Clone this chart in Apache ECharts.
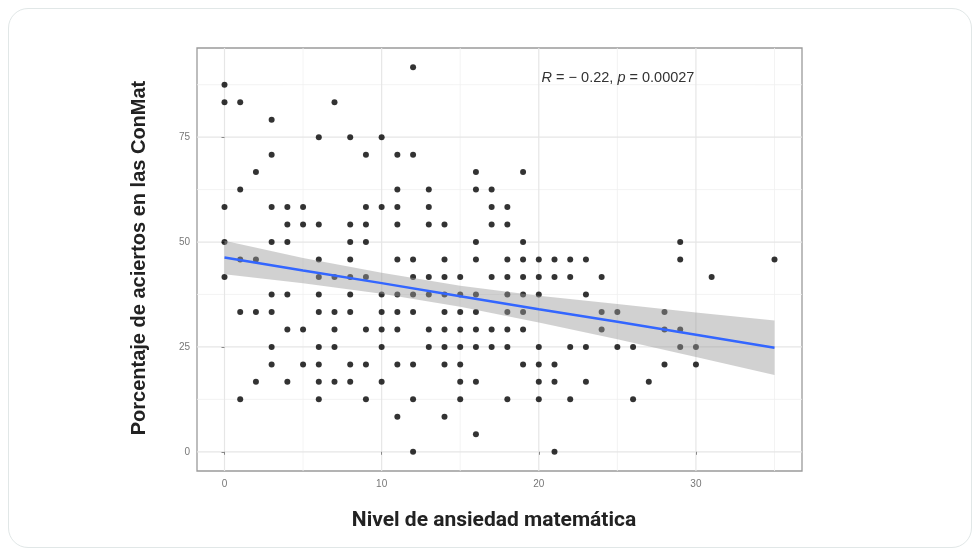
<!DOCTYPE html>
<html>
<head>
<meta charset="utf-8">
<script src="https://cdn.jsdelivr.net/npm/echarts@6/dist/echarts.min.js"></script>
<style>
  html, body { margin: 0; padding: 0; background: #fff; }
  .card {
    position: absolute; left: 8px; top: 8px; width: 964px; height: 540px;
    border: 1.5px solid #e1e7e7; border-radius: 20px; box-sizing: border-box;
  }
  #chart { position: absolute; left: 0; top: 0; width: 978px; height: 553px; }
</style>
</head>
<body>
<div class="card"></div>
<div id="chart"></div>
<script>
// ansiedad (x) y porcentaje de aciertos (y), leidos fila por fila
const pts = [
  [91.67, [12]],
  [87.5, [0]],
  [83.33, [0, 1, 7]],
  [79.17, [3]],
  [75, [6, 8, 10]],
  [70.83, [3, 9, 11, 12]],
  [66.67, [2, 16, 19]],
  [62.5, [1, 11, 13, 16, 17]],
  [58.33, [0, 3, 4, 5, 9, 10, 11, 13, 17, 18]],
  [54.17, [4, 5, 6, 8, 9, 11, 13, 14, 17, 18]],
  [50, [0, 3, 4, 8, 9, 16, 19, 29]],
  [45.83, [1, 2, 6, 8, 11, 12, 14, 16, 18, 19, 20, 21, 22, 23, 29, 35]],
  [41.67, [0, 6, 7, 8, 9, 12, 13, 14, 15, 17, 18, 19, 20, 21, 22, 24, 31]],
  [37.5, [3, 4, 6, 8, 10, 11, 12, 13, 14, 15, 16, 18, 19, 20, 23]],
  [33.33, [1, 2, 3, 6, 7, 8, 10, 11, 12, 14, 15, 16, 18, 19, 24, 25, 28]],
  [29.17, [4, 5, 7, 9, 10, 11, 13, 14, 15, 16, 17, 18, 19, 24, 28, 29]],
  [25, [3, 6, 7, 10, 13, 14, 15, 16, 17, 18, 20, 22, 23, 25, 26, 29, 30]],
  [20.83, [3, 5, 6, 8, 9, 11, 12, 14, 15, 19, 20, 21, 28, 30]],
  [16.67, [2, 4, 6, 7, 8, 10, 15, 16, 20, 21, 23, 27]],
  [12.5, [1, 6, 9, 12, 15, 18, 20, 22, 26]],
  [8.33, [11, 14]],
  [4.17, [16]],
  [0, [12, 21]]
];

// recta de regresion y banda de confianza
const fitX = [0, 5, 10, 15, 20, 25, 30, 35];
const fitY = [46.3, 43.2, 40.2, 37.1, 34.0, 31.0, 27.9, 24.8];
const bandUpper = [50.3, 46.2, 42.7, 39.6, 37.2, 35.2, 33.2, 31.3];
const bandLower = [42.3, 40.2, 37.7, 34.6, 30.8, 26.8, 22.6, 18.3];

const xTicks = [0, 10, 20, 30];
const xMinor = [5, 15, 25, 35];
const yTicks = [0, 25, 50, 75];
const yMinor = [12.5, 37.5, 62.5, 87.5];

const scatterData = [];
pts.forEach(([y, xs]) => xs.forEach((x) => scatterData.push([x, y])));

// lineas de cuadricula dibujadas debajo de los puntos
function gridSeries(values, vertical, color, width) {
  return {
    type: 'custom', z: 0, silent: true,
    data: values.map((v) => (vertical ? [v, 0] : [0, v])),
    renderItem: (params, api) => {
      const cs = params.coordSys;
      const p = api.coord([api.value(0), api.value(1)]);
      const shape = vertical
        ? { x1: p[0], y1: cs.y, x2: p[0], y2: cs.y + cs.height }
        : { x1: cs.x, y1: p[1], x2: cs.x + cs.width, y2: p[1] };
      return { type: 'line', shape: shape, style: { stroke: color, lineWidth: width } };
    },
  };
}

const chart = echarts.init(document.getElementById('chart'));
chart.setOption({
  animation: false,
  grid: {
    left: 197, top: 48, right: 176, bottom: 82,
    show: true, borderColor: '#9a9a9a', borderWidth: 1.3, backgroundColor: 'transparent',
  },
  xAxis: {
    type: 'value', min: -1.75, max: 36.75,
    axisLine: { show: false },
    splitLine: { show: false },
    axisTick: { show: true, customValues: xTicks, length: 3, lineStyle: { color: '#888' } },
    axisLabel: { customValues: xTicks, margin: 8, color: '#777', fontSize: 10, fontFamily: 'Liberation Sans' },
  },
  yAxis: {
    type: 'value', min: -4.58, max: 96.25,
    axisLine: { show: false },
    splitLine: { show: false },
    axisTick: { show: true, customValues: yTicks, length: 3, lineStyle: { color: '#888' } },
    axisLabel: { customValues: yTicks, margin: 7, color: '#777', fontSize: 10, fontFamily: 'Liberation Sans' },
  },
  graphic: [
    {
      type: 'text', x: 139, y: 258, rotation: Math.PI / 2,
      style: {
        text: 'Porcentaje de aciertos en las ConMat', textAlign: 'center', textVerticalAlign: 'middle',
        font: 'bold 20px "Liberation Sans"', fill: '#222',
      },
    },
    {
      type: 'text', x: 494, y: 521,
      style: {
        text: 'Nivel de ansiedad matemática', textAlign: 'center', textVerticalAlign: 'middle',
        font: 'bold 21px Roboto', fill: '#222',
      },
    },
    {
      type: 'text', x: 618, y: 78, z: 10,
      style: {
        text: '{i|R} = − 0.22, {i|p} = 0.00027', textAlign: 'center', textVerticalAlign: 'middle',
        font: '14.5px "Liberation Sans"', fill: '#333',
        rich: { i: { fontStyle: 'italic', fontSize: 14.5, fontFamily: 'Liberation Sans', fill: '#333' } },
      },
    },
  ],
  series: [
    gridSeries(xMinor, true, '#f0f0f0', 0.8),
    gridSeries(yMinor, false, '#f0f0f0', 0.8),
    gridSeries(xTicks, true, '#e6e6e6', 1.2),
    gridSeries(yTicks, false, '#e6e6e6', 1.2),
    {
      type: 'scatter', data: scatterData, symbolSize: 6, z: 2,
      itemStyle: { color: '#000' },
    },
    {
      type: 'custom', data: [[0, 0]], z: 3, silent: true,
      renderItem: (params, api) => {
        const poly = [];
        fitX.forEach((x, i) => poly.push(api.coord([x, bandUpper[i]])));
        for (let i = fitX.length - 1; i >= 0; i--) poly.push(api.coord([fitX[i], bandLower[i]]));
        return { type: 'polygon', shape: { points: poly }, style: { fill: 'rgba(153,153,153,0.45)' } };
      },
    },
    {
      type: 'line', data: fitX.map((x, i) => [x, fitY[i]]), showSymbol: false, z: 4,
      lineStyle: { color: '#3366ff', width: 2.5 },
    },
  ],
});
</script>
</body>
</html>
